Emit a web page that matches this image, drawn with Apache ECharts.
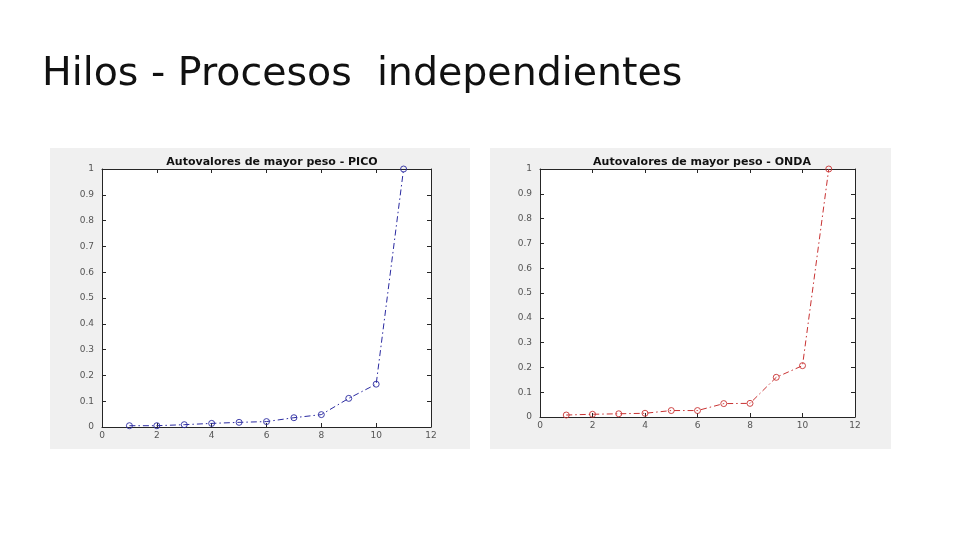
<!DOCTYPE html>
<html><head><meta charset="utf-8">
<script src="https://cdn.jsdelivr.net/npm/echarts@6/dist/echarts.min.js"></script>
<style>html,body{margin:0;padding:0;background:#fff;}#c{width:960px;height:540px;}</style>
</head><body><div id="c"></div>
<script>
const pageTitle = 'Hilos - Procesos  independientes';
const titlePico = 'Autovalores de mayor peso - PICO';
const titleOnda = 'Autovalores de mayor peso - ONDA';
const xValues = [1, 2, 3, 4, 5, 6, 7, 8, 9, 10, 11];
const picoValues = [0.005, 0.005, 0.009, 0.014, 0.018, 0.021, 0.036, 0.048, 0.111, 0.166, 1.0];
const ondaValues = [0.008, 0.011, 0.013, 0.015, 0.026, 0.026, 0.054, 0.055, 0.160, 0.207, 1.0];
const yTicks = [0, 0.1, 0.2, 0.3, 0.4, 0.5, 0.6, 0.7, 0.8, 0.9, 1];
const xTicks = [0, 2, 4, 6, 8, 10, 12];

const chart = echarts.init(document.getElementById('c'));
const labelStyle = {color: '#555', fontSize: 9, fontFamily: 'DejaVu Sans'};
function xAxes(gi) {
  const base = {gridIndex: gi, type: 'value', min: 0, max: 12, interval: 2, splitLine: {show: false},
    axisLine: {show: true, onZero: false, lineStyle: {color: '#262626', width: 1}},
    axisTick: {show: true, inside: true, length: 4, lineStyle: {color: '#262626'}}};
  return [
    Object.assign({}, base, {position: 'bottom', axisLabel: Object.assign({margin: 4}, labelStyle)}),
    Object.assign({}, base, {position: 'top', axisLabel: {show: false}})
  ];
}
function yAxes(gi) {
  const base = {gridIndex: gi, type: 'value', min: 0, max: 1, interval: 0.1, splitLine: {show: false},
    axisLine: {show: true, onZero: false, lineStyle: {color: '#262626', width: 1}},
    axisTick: {show: true, inside: true, length: 4, lineStyle: {color: '#262626'}}};
  return [
    Object.assign({}, base, {position: 'left', axisLabel: Object.assign({margin: 8, formatter: v => String(Math.round(v * 10) / 10)}, labelStyle)}),
    Object.assign({}, base, {position: 'right', axisLabel: {show: false}})
  ];
}
function series(xi, yi, vals, color) {
  return {type: 'line', xAxisIndex: xi, yAxisIndex: yi,
    data: xValues.map((x, i) => [x, vals[i]]),
    symbol: 'circle', symbolSize: 6,
    itemStyle: {color: 'rgba(255,255,255,0)', borderColor: color, borderWidth: 0.9},
    lineStyle: {color: color, width: 1, type: [6, 3, 1.5, 3]},
    emphasis: {disabled: true},
    animation: false};
}
chart.setOption({
  backgroundColor: '#ffffff',
  animation: false,
  title: [
    {text: pageTitle, left: 37, top: 50, textStyle: {fontFamily: 'DejaVu Sans', fontWeight: 'normal', fontSize: 39.5, color: '#111'}},
    {text: titlePico, left: 267, top: 152, textAlign: 'center', textStyle: {fontFamily: 'DejaVu Sans', fontWeight: 'bold', fontSize: 11, color: '#111'}},
    {text: titleOnda, left: 697, top: 152, textAlign: 'center', textStyle: {fontFamily: 'DejaVu Sans', fontWeight: 'bold', fontSize: 11, color: '#111'}}
  ],
  graphic: [
    {type: 'rect', z: -10, shape: {x: 50, y: 148, width: 420, height: 301}, style: {fill: '#f0f0f0'}},
    {type: 'rect', z: -10, shape: {x: 490, y: 148, width: 401, height: 301}, style: {fill: '#f0f0f0'}}
  ],
  grid: [
    {left: 102, top: 169, width: 329, height: 258, show: true, backgroundColor: '#ffffff', borderWidth: 0},
    {left: 540, top: 169, width: 315, height: 248, show: true, backgroundColor: '#ffffff', borderWidth: 0}
  ],
  xAxis: [...xAxes(0), ...xAxes(1)],
  yAxis: [...yAxes(0), ...yAxes(1)],
  series: [
    series(0, 0, picoValues, '#2a2aa0'),
    series(2, 2, ondaValues, '#c83232')
  ]
});
</script></body></html>
